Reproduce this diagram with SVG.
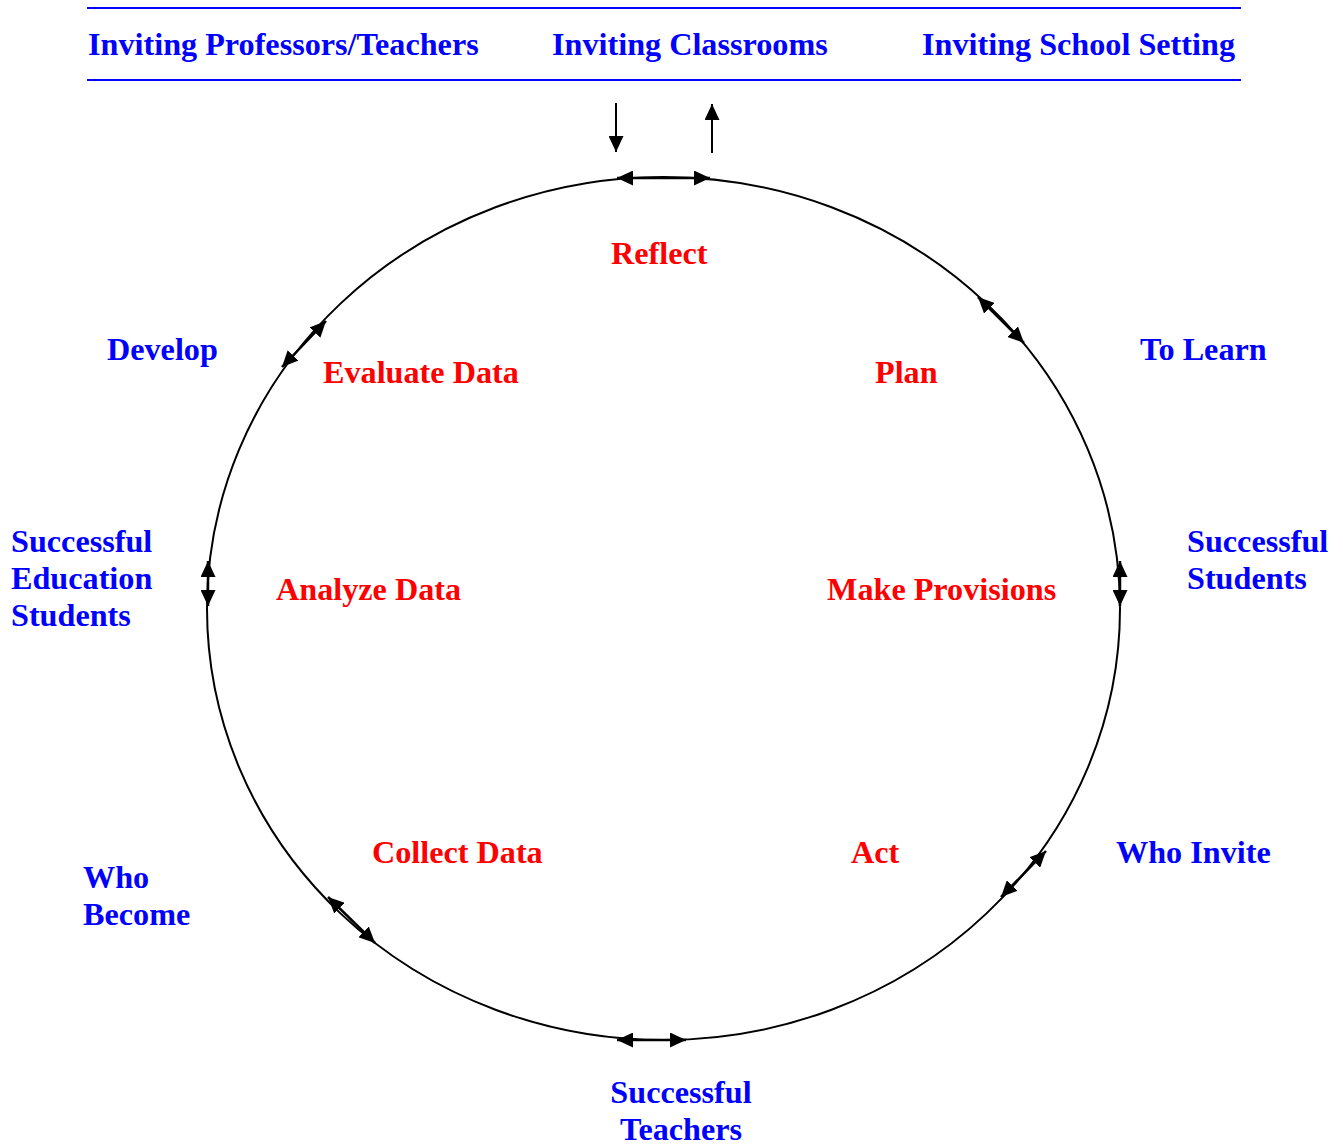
<svg xmlns="http://www.w3.org/2000/svg" width="1343" height="1146" viewBox="0 0 1343 1146">
<defs>
<marker id="ah" viewBox="0 0 16 15" refX="16" refY="7.5" markerWidth="16" markerHeight="15" markerUnits="userSpaceOnUse" orient="auto-start-reverse">
<path d="M0,0 L16,7.5 L0,15 z" fill="#000"/>
</marker>
<style>
text{font-family:"Liberation Serif","Times New Roman",serif;font-weight:bold;font-size:32.2px}
.b{fill:#0000ff}
.r{fill:#ff0000}
.c{fill:none;stroke:#000;stroke-width:2}
.a{stroke:#000;stroke-width:2.5;fill:none;marker-start:url(#ah);marker-end:url(#ah)}
.s{stroke:#000;stroke-width:2;fill:none;marker-end:url(#ah)}
</style>
</defs>
<rect width="1343" height="1146" fill="#fff"/>
<g id="header">
<line x1="87" y1="8" x2="1241" y2="8" stroke="#0000ff" stroke-width="2"/>
<line x1="87" y1="80" x2="1241" y2="80" stroke="#0000ff" stroke-width="2"/>
<text class="b" x="88" y="55">Inviting Professors/Teachers</text>
<text class="b" x="552" y="55">Inviting Classrooms</text>
<text class="b" x="922" y="55">Inviting School Setting</text>
</g>
<g id="cycle">
<ellipse class="c" cx="663.5" cy="608.5" rx="456.5" ry="431.5"/>
</g>
<g id="connectors">
<line class="s" x1="616" y1="103" x2="616" y2="152"/>
<line class="s" x1="712" y1="153" x2="712" y2="104"/>
<line class="a" x1="617" y1="178" x2="710" y2="178"/>
<line class="a" x1="978" y1="297" x2="1024" y2="343"/>
<line class="a" x1="326" y1="321" x2="282" y2="367"/>
<line class="a" x1="208" y1="561" x2="208" y2="606"/>
<line class="a" x1="1120" y1="561" x2="1120" y2="606"/>
<line class="a" x1="328" y1="897" x2="375" y2="943"/>
<line class="a" x1="1046" y1="851" x2="1001" y2="897"/>
<line class="a" x1="617" y1="1040" x2="686" y2="1040"/>
</g>
<g id="n-reflect"><text class="r" x="611" y="264">Reflect</text></g>
<g id="n-plan"><text class="r" x="875" y="383">Plan</text></g>
<g id="n-make-provisions"><text class="r" x="827" y="600">Make Provisions</text></g>
<g id="n-act"><text class="r" x="851" y="863">Act</text></g>
<g id="n-collect-data"><text class="r" x="372" y="863">Collect Data</text></g>
<g id="n-analyze-data"><text class="r" x="276" y="600">Analyze Data</text></g>
<g id="n-evaluate-data"><text class="r" x="323" y="383">Evaluate Data</text></g>
<g id="l-develop"><text class="b" x="107" y="360">Develop</text></g>
<g id="l-to-learn"><text class="b" x="1140" y="360">To Learn</text></g>
<g id="l-successful-students"><text class="b" x="1187" y="552">Successful</text><text class="b" x="1187" y="589">Students</text></g>
<g id="l-who-invite"><text class="b" x="1116" y="863">Who Invite</text></g>
<g id="l-successful-teachers"><text class="b" x="681" y="1103" text-anchor="middle">Successful</text><text class="b" x="681" y="1140" text-anchor="middle">Teachers</text></g>
<g id="l-who-become"><text class="b" x="83" y="888">Who</text><text class="b" x="83" y="925">Become</text></g>
<g id="l-successful-education-students"><text class="b" x="11" y="552">Successful</text><text class="b" x="11" y="589">Education</text><text class="b" x="11" y="626">Students</text></g>
</svg>
